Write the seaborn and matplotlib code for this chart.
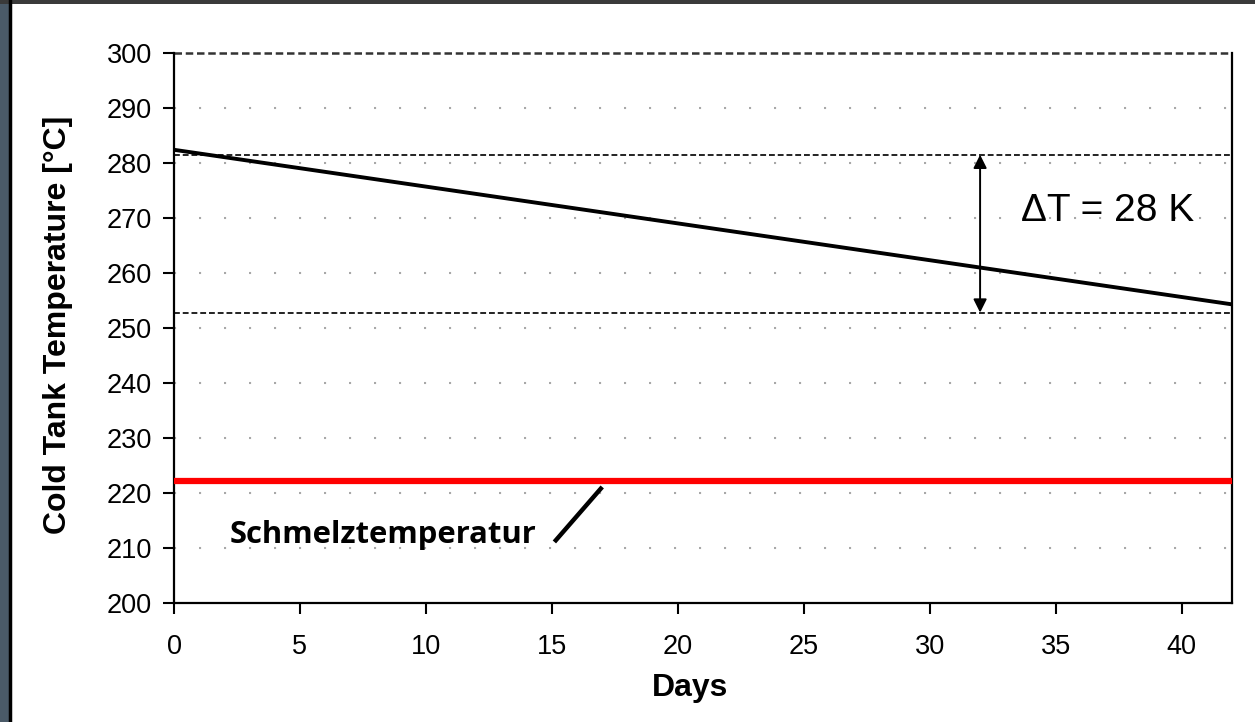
import matplotlib
matplotlib.use("Agg")
import matplotlib.pyplot as plt
import seaborn as sns
import pandas as pd
from matplotlib.patches import Rectangle
from matplotlib.lines import Line2D

# data
days = [0, 42]
cold_tank_temp = [282.4, 254.3]
band_upper = 281.5
band_lower = 252.8
melt_temp = 222.2
arrow_day = 32
delta_label = "ΔT = 28 K"
melt_label = "Schmelztemperatur"
x_ticks = [0, 5, 10, 15, 20, 25, 30, 35, 40]
y_ticks = [200, 210, 220, 230, 240, 250, 260, 270, 280, 290, 300]

sns.set_theme(style="white")
plt.rcParams['font.family'] = ['Liberation Sans', 'DejaVu Sans']

fig = plt.figure(figsize=(12.55, 7.22), dpi=100)
ax = fig.add_axes([174/1255, 1-603/722, (1232-174)/1255, (603-53)/722])

df = pd.DataFrame({"Days": days, "Temp": cold_tank_temp})

# grid dots
for yv in y_ticks[1:-1]:
    ax.axhline(yv, color="#a8a8a8", lw=1.5, ls=(0, (1, 11)), zorder=0)
# top dashed line
ax.axhline(300, color="#333333", lw=1.8, ls=(0, (3, 1.5)), zorder=1, clip_on=False)

ax.axhline(band_upper, color="#222222", lw=1.4, ls=(0, (3, 1.5)), zorder=2)
ax.axhline(band_lower, color="#222222", lw=1.4, ls=(0, (3, 1.5)), zorder=2)
ax.axhline(melt_temp, color="#ff0000", lw=4.5, zorder=3)

sns.lineplot(data=df, x="Days", y="Temp", color="black", lw=2.8, ax=ax, zorder=4)

ax.annotate("", xy=(arrow_day, band_upper), xytext=(arrow_day, band_lower),
            arrowprops=dict(arrowstyle="<|-|>", color="black", lw=1.4,
                            mutation_scale=20, shrinkA=0, shrinkB=0))
ax.text(37.05, 271.2, delta_label, fontsize=28, ha="center", va="center", color="black")
ax.text(2.2, 212.4, melt_label, fontsize=22.3, fontweight="bold", ha="left", va="center",
        family=["Open Sans", "DejaVu Sans"], color="black")
ax.plot([15.1, 17.0], [211.1, 221.1], color="black", lw=3.2, solid_capstyle="butt", zorder=5)

ax.set_xlim(0, 42)
ax.set_ylim(200, 300)
ax.set_xticks(x_ticks)
ax.set_yticks(y_ticks)
ax.tick_params(axis="both", direction="out", length=8, width=1.5, color="black",
               labelsize=19.5, labelcolor="black", pad=8, left=True, bottom=True)
ax.tick_params(axis="x", pad=14)
ax.set_xlabel("Days", fontsize=23, fontweight="bold", color="black")
ax.set_ylabel("Cold Tank Temperature [°C]", fontsize=23, fontweight="bold", color="black")
ax.xaxis.set_label_coords(0.488, -0.128)
ax.yaxis.set_label_coords(-0.095, 0.505)

for side in ["left", "bottom", "right"]:
    ax.spines[side].set_visible(True)
    ax.spines[side].set_color("black")
    ax.spines[side].set_linewidth(1.6)
ax.spines["top"].set_visible(False)

# scan frame
fig.patches.append(Rectangle((0, 0), 10/1255, 1, transform=fig.transFigure,
                             facecolor="#4a5a68", edgecolor="none", zorder=10))
fig.patches.append(Rectangle((0, 1-4/722), 1, 4/722, transform=fig.transFigure,
                             facecolor="#3a3a3a", edgecolor="none", zorder=10))
fig.lines.append(Line2D([10/1255, 10/1255], [0, 1], transform=fig.transFigure,
                        color="black", lw=2.5, zorder=11))

fig.savefig("out.png", dpi=100)
